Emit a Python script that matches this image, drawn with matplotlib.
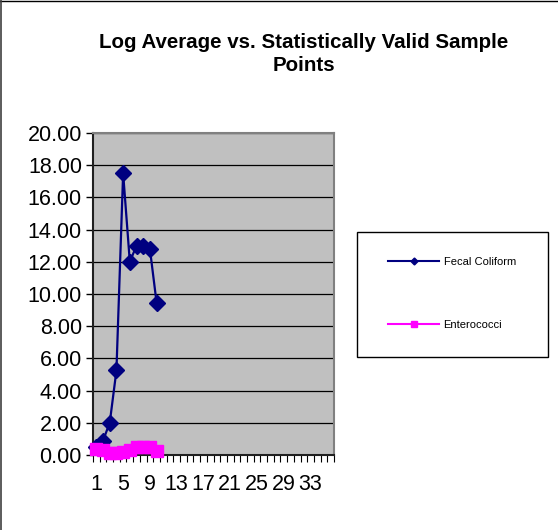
import numpy as np
import matplotlib
matplotlib.use('Agg')
import matplotlib.pyplot as plt
from matplotlib.lines import Line2D
from matplotlib.patches import Rectangle

plt.rcParams['font.family'] = ['Liberation Sans', 'DejaVu Sans']

#==============================================================================
# Data
#==============================================================================
title = 'Log Average vs. Statistically Valid Sample\nPoints'
n_categories = 36
sample_points = np.arange(1, 11)
fecal_coliform = [0.5, 0.9, 2.0, 5.25, 17.5, 12.0, 13.0, 13.0, 12.8, 9.45]
enterococci = [0.35, 0.3, 0.15, 0.1, 0.2, 0.3, 0.5, 0.5, 0.5, 0.25]
y_ticks = np.arange(0, 21, 2)
x_labels = np.arange(1, 34, 4)

navy = '#000080'
magenta = '#FF00FF'

#==============================================================================
# Figure
#==============================================================================
W, H = 558, 530
fig = plt.figure(figsize=(W / 100, H / 100), dpi=100)
ax = fig.add_axes([93 / W, (H - 455) / H, (334 - 93) / W, (455 - 133) / H])
ax.set_facecolor('#C0C0C0')

ax.plot(sample_points, fecal_coliform, color=navy, lw=1.6, marker='D',
        ms=8.5, zorder=3, clip_on=False)
ax.plot(sample_points, enterococci, color=magenta, lw=1.6, marker='s',
        ms=8.5, zorder=4, clip_on=False)

ax.set_xlim(0.5, n_categories + 0.5)
ax.set_ylim(0, 20)
ax.set_yticks(y_ticks)
ax.set_yticklabels(['%.2f' % v for v in y_ticks])
ax.set_xticks(x_labels)
ax.set_xticks(np.arange(0.5, n_categories + 1, 1), minor=True)
ax.tick_params(axis='x', which='major', length=0, pad=14, labelsize=15.5)
ax.tick_params(axis='x', which='minor', length=5, width=0.8, direction='out')
ax.tick_params(axis='y', length=5, width=1, direction='out', labelsize=15.5, pad=3)
ax.yaxis.grid(True, color='black', lw=0.9)
ax.set_axisbelow(True)
for s in ['top', 'right']:
    ax.spines[s].set_color('#808080')
    ax.spines[s].set_linewidth(1.5)
for s in ['left', 'bottom']:
    ax.spines[s].set_color('#202020')
    ax.spines[s].set_linewidth(1.5)

fig.text(304 / W, 1 - 54 / H, title, ha='center', va='center',
         fontsize=14.8, fontweight='bold', linespacing=1.3)

# legend box
fig.patches.append(Rectangle((357 / W, 1 - 357 / H), (548 - 357) / W,
                             (357 - 232) / H, transform=fig.transFigure,
                             facecolor='white', edgecolor='black', lw=1))
handles = [Line2D([], [], color=navy, lw=1.5, marker='D', ms=3.5),
           Line2D([], [], color=magenta, lw=1.5, marker='s', ms=5)]
fig.legend(handles, ['Fecal Coliform', 'Enterococci'], loc='upper left',
           bbox_to_anchor=(388 / W, 1 - 257 / H), frameon=False, fontsize=8,
           handlelength=4.6, handletextpad=0.4, labelspacing=4.75,
           borderpad=0, borderaxespad=0)

# page border remnants
fig.add_artist(Line2D([0, 1], [1 - 1 / H, 1 - 1 / H], color='black', lw=1))
fig.add_artist(Line2D([1 / W, 1 / W], [0, 1], color='#404040', lw=1.2))

fig.savefig('out.png', dpi=100)
